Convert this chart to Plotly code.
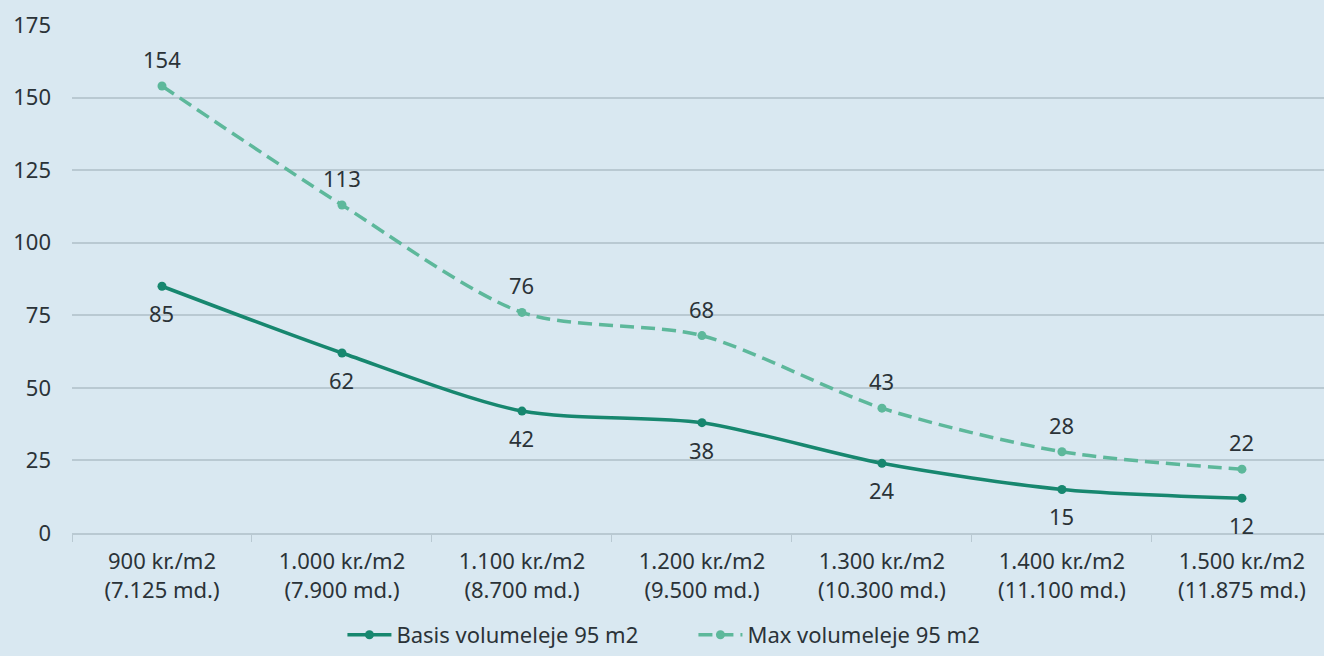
import plotly.graph_objects as go

categories = [
    "900 kr./m2<br>(7.125 md.)",
    "1.000 kr./m2<br>(7.900 md.)",
    "1.100 kr./m2<br>(8.700 md.)",
    "1.200 kr./m2<br>(9.500 md.)",
    "1.300 kr./m2<br>(10.300 md.)",
    "1.400 kr./m2<br>(11.100 md.)",
    "1.500 kr./m2<br>(11.875 md.)",
]
basis = [85, 62, 42, 38, 24, 15, 12]
maks = [154, 113, 76, 68, 43, 28, 22]
y_ticks = [0, 25, 50, 75, 100, 125, 150, 175]

BG = "#D9E8F1"
TEXT = "#2B3338"
GRID = "#B9C9D2"
DARK = "#17876F"
LIGHT = "#5DB89B"
FONT = "Noto Sans"
FS = 22

fig = go.Figure()
fig.add_trace(go.Scatter(
    x=categories, y=basis, name="Basis volumeleje 95 m2",
    mode="lines+markers",
    line=dict(color=DARK, width=3.5, shape="spline", smoothing=0.8),
    marker=dict(color=DARK, size=9),
))
fig.add_trace(go.Scatter(
    x=categories, y=maks, name="Max volumeleje 95 m2",
    mode="lines+markers",
    line=dict(color=LIGHT, width=3.5, dash="14px,7px", shape="spline", smoothing=0.8),
    marker=dict(color=LIGHT, size=9),
))

# value labels: below the solid series, above the dashed one
for cat, v in zip(categories, basis):
    fig.add_annotation(x=cat, y=v, text=str(v), showarrow=False, yshift=-27,
                       font=dict(size=FS, color=TEXT, family=FONT))
for cat, v in zip(categories, maks):
    fig.add_annotation(x=cat, y=v, text=str(v), showarrow=False, yshift=27,
                       font=dict(size=FS, color=TEXT, family=FONT))

fig.update_layout(
    width=1324, height=656,
    margin=dict(l=72, r=0, t=25, b=122),
    paper_bgcolor=BG, plot_bgcolor=BG,
    font=dict(family=FONT, size=FS, color=TEXT),
    showlegend=True,
    legend=dict(orientation="h", x=0.216, xanchor="left", y=-0.2, yanchor="middle",
                font=dict(size=FS, color=TEXT, family=FONT),
                bgcolor="rgba(0,0,0,0)",
                itemwidth=44, entrywidth=292, entrywidthmode="pixels"),
    xaxis=dict(
        type="category", range=[-0.5, 6.456],
        showgrid=False, showline=True, linecolor=GRID, linewidth=1.5,
        ticks="outside", tickson="boundaries", ticklen=7, tickcolor=GRID,
        tickfont=dict(size=FS, color=TEXT), zeroline=False, ticklabelstandoff=8,
    ),
    yaxis=dict(
        range=[0, 175], tickvals=y_ticks,
        showgrid=True, gridcolor=GRID, gridwidth=1.5,
        zeroline=False, showline=False,
        tickfont=dict(size=FS, color=TEXT), ticklabelstandoff=20,
    ),
)

fig.write_html("out.html")
